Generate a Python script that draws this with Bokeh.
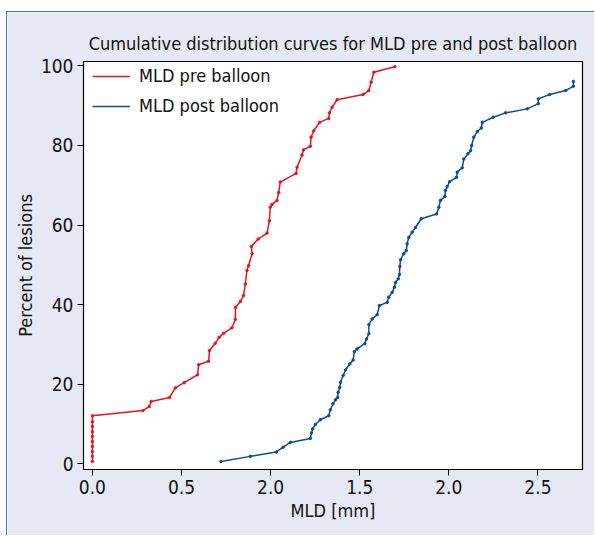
from bokeh.plotting import figure
from bokeh.models import FixedTicker, Legend, LegendItem
from bokeh.embed import file_html
from bokeh.resources import INLINE

# ---- data ----
pre_x = [0.0, 0.0, 0.0, 0.0, 0.0, 0.0, 0.0, 0.0, 0.0, 0.0,
         0.283, 0.319, 0.330, 0.433, 0.465, 0.515, 0.590, 0.596, 0.652, 0.657,
         0.689, 0.711, 0.736, 0.783, 0.802, 0.803, 0.830, 0.848, 0.858, 0.867,
         0.876, 0.896, 0.892, 0.930, 0.980, 0.993, 0.998, 1.008, 1.036, 1.045,
         1.054, 1.143, 1.148, 1.176, 1.185, 1.223, 1.227, 1.242, 1.275, 1.326,
         1.330, 1.345, 1.373, 1.519, 1.551, 1.564, 1.579, 1.697]
pre_y = [0.6, 1.9, 3.1, 4.4, 5.6, 6.9, 8.1, 9.4, 10.6, 12.1,
         13.4, 14.4, 15.7, 16.7, 19.1, 20.4, 22.4, 24.9, 25.8, 28.5,
         30.3, 31.8, 32.8, 34.2, 36.3, 39.3, 40.8, 42.3, 45.2, 48.6,
         49.8, 52.8, 54.6, 56.5, 58.0, 61.1, 64.5, 65.2, 66.2, 68.2,
         70.8, 73.0, 74.5, 77.6, 78.9, 79.8, 82.1, 83.7, 85.8, 86.8,
         88.2, 89.6, 91.5, 92.8, 93.8, 95.9, 98.4, 99.8]

post_x = [0.721, 0.886, 1.032, 1.070, 1.111, 1.223, 1.229, 1.236, 1.251, 1.279,
          1.326, 1.335, 1.350, 1.364, 1.376, 1.379, 1.388, 1.392, 1.407, 1.420,
          1.444, 1.463, 1.470, 1.485, 1.528, 1.538, 1.551, 1.551, 1.570, 1.598,
          1.611, 1.654, 1.663, 1.682, 1.695, 1.701, 1.716, 1.723, 1.725, 1.729,
          1.747, 1.761, 1.766, 1.775, 1.794, 1.813, 1.845, 1.931, 1.944, 1.953,
          1.978, 1.981, 1.991, 2.004, 2.043, 2.047, 2.075, 2.084, 2.107, 2.122,
          2.128, 2.140, 2.160, 2.182, 2.188, 2.249, 2.318, 2.440, 2.502, 2.502,
          2.566, 2.656, 2.699, 2.699]
post_y = [0.6, 1.9, 3.0, 4.2, 5.4, 6.4, 7.8, 8.8, 9.9, 11.1,
          12.1, 13.6, 15.1, 16.1, 16.7, 18.0, 19.2, 20.5, 22.2, 23.6,
          25.1, 26.1, 28.2, 28.9, 30.2, 31.4, 32.7, 35.0, 36.4, 37.5,
          39.8, 40.6, 41.9, 43.1, 44.4, 45.6, 46.5, 47.6, 49.6, 51.3,
          52.8, 53.6, 55.3, 56.9, 58.2, 59.4, 61.6, 62.8, 64.5, 66.2,
          67.2, 68.7, 69.7, 70.9, 72.0, 73.3, 74.4, 76.6, 77.9, 78.7,
          80.0, 82.1, 83.5, 84.4, 85.8, 87.1, 88.2, 89.2, 90.5, 91.7,
          92.8, 93.8, 94.9, 96.1]

x_ticks = [0.0, 0.5, 1.0, 1.5, 2.0, 2.5]
x_tick_labels = ["0.0", "0.5", "2.0", "1.5", "2.0", "2.5"]
y_ticks = [0, 20, 40, 60, 80, 100]

series_names = ["MLD pre balloon", "MLD post balloon"]
RED = "#e8141f"
BLUE = "#0b4c92"
PANEL = "#e6e8f4"
FONT = "'DejaVu Sans Condensed', Roboto, sans-serif"

p = figure(width=588, height=524, output_backend="svg", toolbar_location=None,
           x_range=(-0.05, 2.75), y_range=(-1.4, 101.1),
           title="Cumulative distribution curves for MLD pre and post balloon",
           min_border_left=76, min_border_right=13, min_border_top=49,
           min_border_bottom=67)
p.styles = {"margin-left": "6px", "margin-top": "11px",
            "border-left": "1px solid #4f6fa8", "border-top": "1px solid #4f6fa8"}
p.background_fill_color = "white"
p.border_fill_color = PANEL
p.outline_line_color = "black"
p.outline_line_width = 1.2
p.grid.visible = False

p.title.text_font = FONT
p.title.text_font_size = "18px"
p.title.text_font_style = "normal"
p.title.align = "center"
p.title.text_color = "#111111"
p.title.offset = 0
p.title.standoff = 16

r1 = p.line(pre_x, pre_y, line_color=RED, line_width=1.5)
r1d = p.scatter(pre_x, pre_y, size=2.5, color=RED)
r2 = p.line(post_x, post_y, line_color=BLUE, line_width=1.5)
r2d = p.scatter(post_x, post_y, size=2.5, color=BLUE)

p.xaxis.ticker = FixedTicker(ticks=x_ticks)
p.xaxis.major_label_overrides = {t: l for t, l in zip(x_ticks, x_tick_labels)}
p.yaxis.ticker = FixedTicker(ticks=y_ticks)
p.xaxis.axis_label = "MLD [mm]"
p.yaxis.axis_label = "Percent of lesions"
for ax in (p.xaxis, p.yaxis):
    ax.axis_line_color = "black"
    ax.major_tick_line_color = "black"
    ax.major_tick_out = 6
    ax.major_tick_in = 0
    ax.minor_tick_line_color = None
    ax.major_label_text_font = FONT
    ax.major_label_text_font_size = "19px"
    ax.major_label_text_color = "#111111"
    ax.axis_label_text_font = FONT
    ax.axis_label_text_font_size = "18px"
    ax.axis_label_text_font_style = "normal"
    ax.axis_label_text_color = "#111111"
p.xaxis.major_label_standoff = 4
p.yaxis.major_label_standoff = 4
p.xaxis.axis_label_standoff = 3
p.yaxis.axis_label_standoff = 2

legend = Legend(items=[LegendItem(label=series_names[0], renderers=[r1]),
                       LegendItem(label=series_names[1], renderers=[r2])],
                location=(9, 353), border_line_color=None,
                background_fill_alpha=0, margin=0, padding=1,
                glyph_width=38, glyph_height=14, label_height=14,
                spacing=9, label_standoff=9,
                label_text_font=FONT, label_text_font_size="18px",
                label_text_color="#111111")
p.add_layout(legend)

open("out.html", "w").write(file_html(p, INLINE))
